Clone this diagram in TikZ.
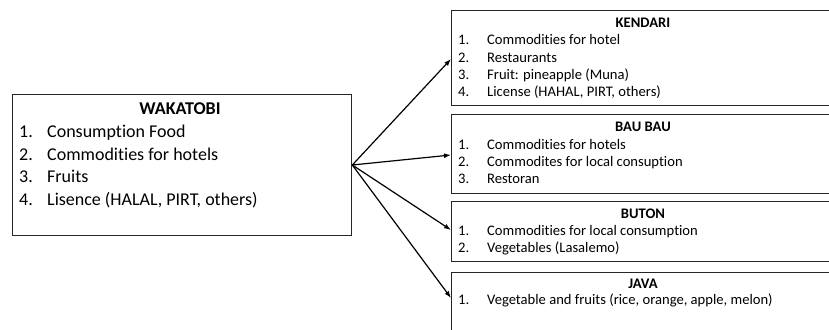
\documentclass[tikz,border=0pt]{standalone}
\usepackage{fontspec}
\setmainfont[Ligatures={NoCommon}]{Carlito}
\usetikzlibrary{arrows.meta}
\begin{document}
\begin{tikzpicture}[x=1pt,y=-1pt,
  boxst/.style={draw=black!85,line width=1.3pt,fill=white},
  bigtxt/.style={inner sep=0pt,anchor=mid west,font=\fontsize{18}{20}\selectfont},
  bigttl/.style={inner sep=0pt,anchor=mid,font=\fontsize{18}{20}\selectfont\bfseries},
  smtxt/.style={inner sep=0pt,anchor=mid west,font=\fontsize{14.6}{16}\selectfont},
  smttl/.style={inner sep=0pt,anchor=mid,font=\fontsize{14.6}{16}\selectfont\bfseries},
  arr/.style={line width=1.2pt,-{Latex[length=7pt,width=5pt]}}]
\useasboundingbox (0,0) rectangle (829,329);
\clip (0,0) rectangle (829,329);
\fill[white] (0,0) rectangle (829,329);
% boxes
\node[boxst,minimum width=339pt,minimum height=141pt,anchor=north west,inner sep=0pt] (wak) at (12,94) {};
\node[boxst,minimum width=386pt,minimum height=95pt,anchor=north west,inner sep=0pt] (ken) at (451,10) {};
\node[boxst,minimum width=386pt,minimum height=79pt,anchor=north west,inner sep=0pt] (bau) at (451,114) {};
\node[boxst,minimum width=386pt,minimum height=60pt,anchor=north west,inner sep=0pt] (but) at (451,201) {};
\node[boxst,minimum width=386pt,minimum height=70pt,anchor=north west,inner sep=0pt] (jav) at (451,272) {};
% Wakatobi text
\node[bigttl] (wt) at (180,112) {WAKATOBI};
\node[bigtxt] (w1n) at (19,135) {1.};
\node[bigtxt] (w1) at (47,135) {Consumption Food};
\node[bigtxt] (w2n) at (19,158) {2.};
\node[bigtxt] (w2) at (47,158) {Commodities for hotels};
\node[bigtxt] (w3n) at (19,180) {3.};
\node[bigtxt] (w3) at (47,180) {Fruits};
\node[bigtxt] (w4n) at (19,203) {4.};
\node[bigtxt] (w4) at (47,203) {Lisence (HALAL, PIRT, others)};
% Kendari
\node[smttl] (kt) at (643,25) {KENDARI};
\node[smtxt] (k1n) at (458,42) {1.};
\node[smtxt] (k1) at (487,42) {Commodities for hotel};
\node[smtxt] (k2n) at (458,60) {2.};
\node[smtxt] (k2) at (487,60) {Restaurants};
\node[smtxt] (k3n) at (458,77) {3.};
\node[smtxt] (k3) at (487,77) {Fruit: pineapple (Muna)};
\node[smtxt] (k4n) at (458,94) {4.};
\node[smtxt] (k4) at (487,94) {License (HAHAL, PIRT, others)};
% Bau Bau
\node[smttl] (bt) at (643,129) {BAU BAU};
\node[smtxt] (b1n) at (458,147) {1.};
\node[smtxt] (b1) at (487,147) {Commodities for hotels};
\node[smtxt] (b2n) at (458,164) {2.};
\node[smtxt] (b2) at (487,164) {Commodites for local consuption};
\node[smtxt] (b3n) at (458,181) {3.};
\node[smtxt] (b3) at (487,181) {Restoran};
% Buton
\node[smttl] (ut) at (643,216) {BUTON};
\node[smtxt] (u1n) at (458,233) {1.};
\node[smtxt] (u1) at (487,233) {Commodities for local consumption};
\node[smtxt] (u2n) at (458,250) {2.};
\node[smtxt] (u2) at (487,250) {Vegetables (Lasalemo)};
% Java
\node[smttl] (jt) at (643,286) {JAVA};
\node[smtxt] (j1n) at (458,302) {1.};
\node[smtxt] (j1) at (487,302) {Vegetable and fruits (rice, orange, apple, melon)};
% arrows
\coordinate (fan) at (wak.east |- 0,165);
\coordinate (kin) at (ken.west |- 0,59);
\coordinate (bin) at (bau.west |- 0,155);
\coordinate (uin) at (but.west |- 0,230);
\coordinate (jin) at (jav.west |- 0,298);
\draw[arr] (fan) -- (kin);
\draw[arr] (fan) -- (bin);
\draw[arr] (fan) -- (uin);
\draw[arr] (fan) -- (jin);
\end{tikzpicture}
\end{document}
